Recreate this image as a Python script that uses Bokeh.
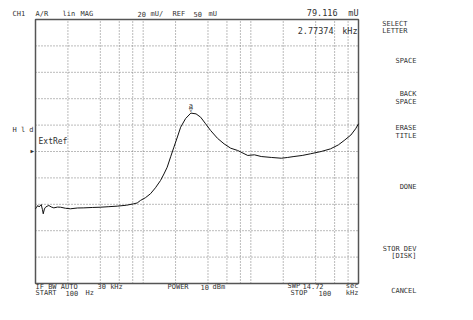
from bokeh.plotting import figure
from bokeh.models import Label, Range1d
from bokeh.core.properties import value
from bokeh.embed import file_html
from bokeh.resources import INLINE

# ---- data ----
freq_hz = [100, 102, 105, 108, 113, 116, 118, 121, 124, 128, 133, 140, 148, 160, 171, 190,
           211, 245, 281, 340, 401, 480, 574, 700, 818, 880, 943, 1050, 1170, 1300, 1449,
           1560, 1672, 1800, 1930, 2080, 2229, 2480, 2774, 3100, 3418, 3800, 4232, 4900,
           5644, 6500, 7530, 9357, 10800, 12490, 15500, 19220, 22000, 25145, 30000, 36000,
           45000, 54900, 65000, 73500, 85000, 94000, 100000]
mag_mu = [6.6, 7.5, 9.1, 8.0, 9.8, 6.0, 2.8, 6.5, 7.8, 8.5, 9.1, 8.0, 7.3, 7.9, 7.8, 7.0,
          6.6, 7.2, 7.3, 7.6, 7.8, 8.2, 8.6, 9.3, 10.4, 11.0, 12.9, 15.0, 18.0, 22.5, 28.0,
          33.0, 38.1, 46.0, 53.3, 61.0, 68.4, 75.0, 79.1, 78.5, 76.0, 71.0, 65.9, 60.0,
          55.8, 52.5, 50.8, 47.0, 47.5, 46.2, 45.5, 44.9, 45.5, 46.2, 47.0, 48.3,
          50.0, 52.0, 55.0, 58.3, 62.5, 67.2, 71.0]
grid_freqs = [200, 400, 600, 800, 1000, 2000, 4000, 6000, 8000, 10000,
              20000, 40000, 60000, 80000]
grid_mags = [-30, -10, 10, 30, 50, 70, 90, 110, 130]
marker_freq = [2773.74]
marker_mag = [79.116]
x_start, x_stop = 100, 100000
y_bottom, y_top = -50, 150

FONT = "DejaVu Sans Mono"
TXT = "#333333"

# ---- layout: graticule box inside the canvas ----
W, H = 465, 312
BOX_L, BOX_R, BOX_T, BOX_B = 35, 358, 19, 283
dec_px = (BOX_R - BOX_L) / 3.0
x_lo = x_start * 10 ** (-BOX_L / dec_px)
x_hi = x_start * 10 ** ((W - BOX_L) / dec_px)
ppu = (BOX_B - BOX_T) / (y_top - y_bottom)
y_hi = y_top + BOX_T / ppu
y_lo = y_bottom - (H - BOX_B) / ppu

p = figure(width=W, height=H, x_axis_type="log",
           x_range=Range1d(x_lo, x_hi), y_range=Range1d(y_lo, y_hi),
           output_backend="svg", toolbar_location=None,
           min_border=0)
p.xaxis.visible = False
p.yaxis.visible = False
p.xgrid.visible = False
p.ygrid.visible = False
p.outline_line_color = None
p.background_fill_color = "white"
p.border_fill_color = "white"

GRID = dict(line_color="#777777", line_dash="1 2", line_width=1)
p.segment(x0=grid_freqs, y0=[y_bottom] * len(grid_freqs),
          x1=grid_freqs, y1=[y_top] * len(grid_freqs), **GRID)
p.segment(x0=[x_start] * len(grid_mags), y0=grid_mags,
          x1=[x_stop] * len(grid_mags), y1=grid_mags, **GRID)
p.quad(left=[x_start], right=[x_stop], bottom=[y_bottom], top=[y_top],
       fill_color=None, line_color="#555555", line_width=1.5)

p.line(freq_hz, mag_mu, line_color="#111111", line_width=1)

# marker at peak
p.text(x=marker_freq, y=marker_mag, text=["\u25bd"], text_align="center",
       text_baseline="bottom", text_font=value(FONT), text_font_size="7px",
       text_color=TXT, y_offset=1)
p.text(x=marker_freq, y=marker_mag, text=["a"], text_align="center",
       text_baseline="alphabetic", text_font=value(FONT), text_font_size="7px",
       text_color=TXT, y_offset=-7)


def lab(text, ix, iy, align="left", size=7):
    # ix, iy: text position (left/right edge, vertical centre) in the reference image pixels
    base = iy + 0.36 * size - 3
    p.add_layout(Label(x=ix, y=H - base, x_units="screen", y_units="screen",
                       text=text, text_align=align, text_baseline="alphabetic",
                       text_font=FONT, text_font_size=f"{size}px", text_color=TXT))


# top line
lab("CH1", 12, 14)
lab("A/R", 35, 14)
lab("lin", 62, 14)
lab("MAG", 80, 14)
lab("20", 137, 14)
lab("mU/", 150, 14)
lab("REF", 172, 14)
lab("50", 193, 14)
lab("mU", 208, 14)
lab("79.116", 337, 12, "right", 8.5)
lab("mU", 358, 12, "right", 8.5)
lab("2.77374", 333, 30, "right", 8.5)
lab("kHz", 357, 30, "right", 8.5)

# left annotations
lab("H l d", 12, 130)
lab("ExtRef", 38, 141, "left", 8)
lab("\u25b6", 30, 151, "left", 6)

# softkeys
lab("SELECT", 407, 24, "right")
lab("LETTER", 407, 31, "right")
lab("SPACE", 416, 60.5, "right")
lab("BACK", 416, 94, "right")
lab("SPACE", 416, 101.5, "right")
lab("ERASE", 416, 128, "right")
lab("TITLE", 416, 135.5, "right")
lab("DONE", 416, 187, "right")
lab("STOR DEV", 416, 248.5, "right")
lab("[DISK]", 416, 256, "right")
lab("CANCEL", 416, 291, "right")

# bottom lines
lab("IF BW AUTO", 35, 287)
lab("30 kHz", 97, 287)
lab("START", 35, 293)
lab("100", 65, 293)
lab("Hz", 85, 293)
lab("POWER", 167, 287)
lab("10", 200, 287)
lab("dBm", 212, 287)
lab("SWP", 287, 286)
lab("14.72", 302, 286)
lab("sec", 358, 286, "right")
lab("STOP", 290, 293)
lab("100", 318, 293)
lab("kHz", 358, 293, "right")

open("out.html", "w").write(file_html(p, INLINE))
